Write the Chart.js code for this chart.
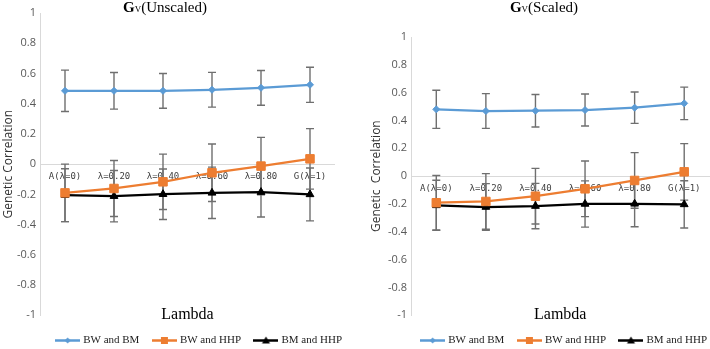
<!DOCTYPE html>
<html>
<head>
<meta charset="utf-8">
<script src="https://cdn.jsdelivr.net/npm/chart.js@4.4.1/dist/chart.umd.min.js"></script>
<style>
  html, body { margin: 0; padding: 0; background: #fff; width: 710px; height: 349px; overflow: hidden; position: relative; }
  .wrap { position: absolute; top: 0; }
  #left { left: 0; }
  #right { left: 355px; }
</style>
</head>
<body>
<div class="wrap" id="left"><canvas id="chartU" width="357" height="356"></canvas></div>
<div class="wrap" id="right"><canvas id="chartS" width="367" height="356"></canvas></div>
<script>
// categories (lambda weights)
const lambdas = ['A(λ=0)', 'λ=0.20', 'λ=0.40', 'λ=0.60', 'λ=0.80', 'G(λ=1)'];
const seriesNames = ['BW and BM', 'BW and HHP', 'BM and HHP'];
const yTicks = [-1, -0.8, -0.6, -0.4, -0.2, 0, 0.2, 0.4, 0.6, 0.8, 1];

// Gv unscaled
const bwBmUnscaled = [0.485, 0.485, 0.485, 0.492, 0.505, 0.525];
const bwBmUnscaledErr = [0.137, 0.121, 0.115, 0.115, 0.115, 0.116];
const bwHhpUnscaled = [-0.19, -0.161, -0.117, -0.057, -0.013, 0.035];
const bwHhpUnscaledErr = [0.19, 0.185, 0.183, 0.19, 0.19, 0.2];
const bmHhpUnscaled = [-0.205, -0.212, -0.199, -0.19, -0.185, -0.2];
const bmHhpUnscaledErr = [0.175, 0.17, 0.167, 0.17, 0.165, 0.175];

// Gv scaled
const bwBmScaled = [0.48, 0.468, 0.47, 0.475, 0.492, 0.523];
const bwBmScaledErr = [0.137, 0.125, 0.117, 0.115, 0.113, 0.117];
const bwHhpScaled = [-0.191, -0.182, -0.144, -0.091, -0.031, 0.031];
const bwHhpScaledErr = [0.196, 0.2, 0.2, 0.2, 0.2, 0.203];
const bmHhpScaled = [-0.21, -0.222, -0.215, -0.2, -0.199, -0.203];
const bmHhpScaledErr = [0.18, 0.168, 0.163, 0.166, 0.165, 0.17];

const colors = ['#5b9bd5', '#ed7d31', '#000000'];
const markers = ['rectRot', 'rect', 'triangle'];
const markerSize = [3.5, 6, 4.5];

// small line + marker picture for the legend
function legendIcon(color, style) {
    const c = document.createElement('canvas');
    c.width = 25; c.height = 11;
    const g = c.getContext('2d');
    g.strokeStyle = color; g.fillStyle = color; g.lineWidth = 2.5;
    g.beginPath(); g.moveTo(0, 5.5); g.lineTo(25, 5.5); g.stroke();
    g.beginPath();
    if (style === 'rectRot') {
        g.moveTo(12.5, 2.5); g.lineTo(15.5, 5.5); g.lineTo(12.5, 8.5); g.lineTo(9.5, 5.5);
    } else if (style === 'rect') {
        g.rect(9, 2, 7, 7);
    } else {
        g.moveTo(12.5, 1.5); g.lineTo(16.5, 8.5); g.lineTo(8.5, 8.5);
    }
    g.closePath(); g.fill();
    return c;
}
const icons = colors.map((c, i) => legendIcon(c, markers[i]));

// vertical error bars drawn behind the lines
const errorBars = {
    id: 'errorBars',
    beforeDatasetsDraw(chart) {
        const { ctx, scales: { x, y } } = chart;
        ctx.save();
        ctx.strokeStyle = '#6f6f6f';
        ctx.lineWidth = 1.4;
        chart.data.datasets.forEach(ds => {
            ds.data.forEach((v, i) => {
                const px = x.getPixelForValue(i);
                const top = y.getPixelForValue(v + ds.errors[i]);
                const bot = y.getPixelForValue(v - ds.errors[i]);
                ctx.beginPath();
                ctx.moveTo(px, top); ctx.lineTo(px, bot);
                ctx.moveTo(px - 4, top); ctx.lineTo(px + 4, top);
                ctx.moveTo(px - 4, bot); ctx.lineTo(px + 4, bot);
                ctx.stroke();
            });
        });
        ctx.restore();
    }
};

// "Gv(...)" heading with a small V
const gvTitle = {
    id: 'gvTitle',
    afterDraw(chart, args, opts) {
        const ctx = chart.ctx;
        const parts = [
            { t: 'G', f: 'bold 15px "Liberation Serif"' },
            { t: 'V', f: '9px "Liberation Serif"' },
            { t: opts.text, f: '15px "Liberation Serif"' }
        ];
        ctx.save();
        ctx.fillStyle = '#000';
        ctx.textBaseline = 'alphabetic';
        let w = 0;
        parts.forEach(p => { ctx.font = p.f; w += ctx.measureText(p.t).width; });
        let x = opts.x - w / 2;
        parts.forEach(p => { ctx.font = p.f; ctx.fillText(p.t, x, opts.y); x += ctx.measureText(p.t).width; });
        ctx.restore();
    }
};

function makeChart(id, values, errors, cfg) {
    const ctx = document.getElementById(id).getContext('2d');
    return new Chart(ctx, {
        type: 'line',
        data: {
            labels: lambdas,
            datasets: values.map((v, i) => ({
                label: seriesNames[i],
                data: v,
                errors: errors[i],
                borderColor: colors[i],
                backgroundColor: colors[i],
                borderWidth: 2.25,
                pointStyle: markers[i],
                pointRadius: markerSize[i],
                pointBorderWidth: 1,
                pointBackgroundColor: colors[i],
                tension: 0
            }))
        },
        plugins: [errorBars, gvTitle],
        options: {
            responsive: false,
            animation: false,
            layout: { padding: { top: cfg.top, right: 0, left: 0, bottom: 0 } },
            plugins: {
                gvTitle: { text: cfg.title, x: cfg.titleX, y: 12 },
                tooltip: { enabled: false },
                legend: {
                    position: 'bottom',
                    align: 'end',
                    title: { display: true, text: '', font: { size: 1 }, padding: { top: 3.5, bottom: 0 } },
                    labels: {
                        usePointStyle: true,
                        pointStyleWidth: 20,
                        padding: 15,
                        color: '#222',
                        font: { family: 'Liberation Serif', size: 11 },
                        generateLabels: chart =>
                            Chart.defaults.plugins.legend.labels.generateLabels(chart)
                                .map((l, i) => ({ ...l, pointStyle: icons[i] }))
                    }
                }
            },
            scales: {
                y: {
                    min: -1,
                    max: 1,
                    afterFit: s => { s.width = cfg.axisW; },
                    afterBuildTicks: s => { s.ticks = yTicks.map(v => ({ value: v })); },
                    grid: { display: false, drawTicks: false },
                    border: { display: true, color: '#d9d9d9', width: 1 },
                    ticks: {
                        padding: 4.5,
                        color: '#595959',
                        font: { family: 'Open Sans', size: 11 },
                        callback: v => String(Math.round(v * 10) / 10)
                    },
                    title: {
                        display: true,
                        text: cfg.yTitle,
                        color: '#333',
                        padding: { top: cfg.yTitlePad, bottom: 0 },
                        font: { family: 'Open Sans', size: 12 }
                    }
                },
                // empty right-hand strip so the legend can extend past the plot
                yPad: {
                    type: 'linear',
                    position: 'right',
                    afterFit: s => { s.width = cfg.rightW; },
                    grid: { display: false, drawTicks: false },
                    border: { display: false },
                    ticks: { display: false }
                },
                x: {
                    position: { y: 0 },
                    offset: true,
                    afterFit: s => { s.height = 0; },
                    grid: { display: false, drawTicks: false },
                    border: { display: true, color: '#d9d9d9', width: 1 },
                    ticks: {
                        padding: 7,
                        autoSkip: false,
                        maxRotation: 0,
                        color: '#404040',
                        font: { family: 'DejaVu Sans Mono', size: 9 }
                    }
                },
                x2: {
                    type: 'category',
                    axis: 'x',
                    offset: true,
                    position: { y: -1 },
                    afterFit: s => { s.height = 0; },
                    grid: { display: false, drawTicks: false },
                    border: { display: false },
                    ticks: { display: false },
                    title: {
                        display: true,
                        text: 'Lambda',
                        color: '#000',
                        padding: { top: 0, bottom: -9 },
                        font: { family: 'Liberation Serif', size: 16 }
                    }
                }
            }
        }
    });
}

makeChart('chartU',
    [bwBmUnscaled, bwHhpUnscaled, bmHhpUnscaled],
    [bwBmUnscaledErr, bwHhpUnscaledErr, bmHhpUnscaledErr],
    { title: '(Unscaled)', titleX: 165, top: 13, rightW: 22.5, axisW: 40.5, yTitle: 'Genetic Correlation', yTitlePad: 1 });

makeChart('chartS',
    [bwBmScaled, bwHhpScaled, bmHhpScaled],
    [bwBmScaledErr, bwHhpScaledErr, bmHhpScaledErr],
    { title: '(Scaled)', titleX: 189, top: 37, rightW: 13, axisW: 56.5, yTitle: 'Genetic  Correlation', yTitlePad: 14 });
</script>
</body>
</html>
